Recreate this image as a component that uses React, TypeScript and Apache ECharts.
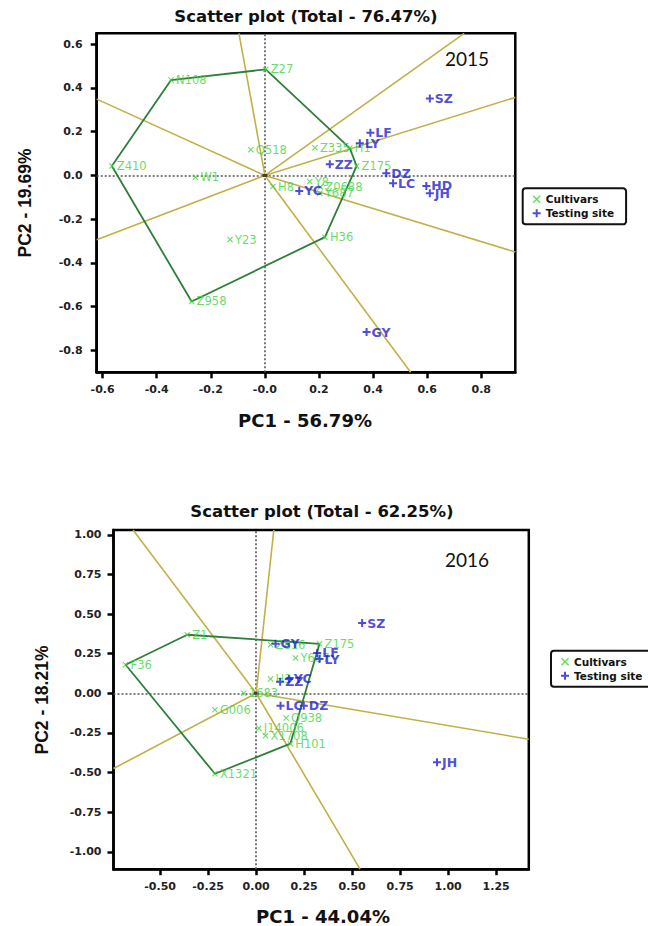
import React, { useEffect, useRef } from "react";
import * as echarts from "echarts";

// ---------- DATA ----------
// 2015 panel
const xTicks2015 = [-0.6, -0.4, -0.2, 0, 0.2, 0.4, 0.6, 0.8];
const yTicks2015 = [-0.8, -0.6, -0.4, -0.2, 0, 0.2, 0.4, 0.6];
const xRange2015 = [-0.622, 0.926];
const yRange2015 = [-0.9, 0.65];

const cultivarNames2015 = ["Z27", "N108", "Z410", "Q518", "W1", "Y23", "Z958", "H36", "Z335", "H1", "Z175", "H8", "Y8", "Z0688", "Y687"];
const cultivarXY2015 = [
  [0.003, 0.485], [-0.347, 0.436], [-0.566, 0.043], [-0.052, 0.118], [-0.257, -0.008],
  [-0.129, -0.293], [-0.271, -0.576], [0.222, -0.282], [0.185, 0.127], [0.314, 0.125],
  [0.339, 0.043], [0.03, -0.051], [0.166, -0.028], [0.205, -0.053], [0.203, -0.081],
];
const siteNames2015 = ["SZ", "LF", "LY", "ZZ", "DZ", "LC", "HD", "JH", "YC", "GY"];
const siteXY2015 = [
  [0.61, 0.352], [0.39, 0.195], [0.351, 0.147], [0.24, 0.051], [0.449, 0.01],
  [0.474, -0.036], [0.597, -0.048], [0.61, -0.081], [0.127, -0.071], [0.376, -0.716],
];
const hull2015 = ["Z27", "H1", "Z175", "H36", "Z958", "Z410", "N108"];
const rays2015 = [
  [-0.096, 0.65], [-0.622, 0.349], [-0.622, -0.294], [0.539, -0.9],
  [0.926, -0.35], [0.926, 0.357], [0.737, 0.65],
];

// 2016 panel
const xTicks2016 = [-0.5, -0.25, 0, 0.25, 0.5, 0.75, 1, 1.25];
const yTicks2016 = [-1, -0.75, -0.5, -0.25, 0, 0.25, 0.5, 0.75, 1];
const xRange2016 = [-0.743, 1.42];
const yRange2016 = [-1.11, 1.03];

const cultivarNames2016 = ["Z1", "F36", "X1321", "G006", "1683", "Z816", "Z175", "Y687", "H3", "Q938", "J14006", "X1708", "H101"];
const cultivarXY2016 = [
  [-0.359, 0.369], [-0.68, 0.18], [-0.215, -0.508], [-0.215, -0.104], [-0.064, 0.0],
  [0.075, 0.306], [0.33, 0.312], [0.205, 0.222], [0.075, 0.09], [0.156, -0.156],
  [0.014, -0.22], [0.049, -0.268], [0.178, -0.318],
];
const siteNames2016 = ["SZ", "GY", "LF", "LY", "ZZ", "YC", "LC", "DZ", "JH"];
const siteXY2016 = [
  [0.552, 0.443], [0.101, 0.312], [0.318, 0.254], [0.33, 0.216], [0.125, 0.072],
  [0.17, 0.09], [0.127, -0.079], [0.248, -0.079], [0.942, -0.435],
];
const hull2016 = ["Z1", "Z175", "H101", "X1321", "F36"];
const rays2016 = [
  [-0.641, 1.03], [0.092, 1.03], [-0.743, -0.475], [0.541, -1.11], [1.42, -0.29],
];

const titles = ["Scatter plot (Total - 76.47%)", "Scatter plot (Total - 62.25%)"];
const xNames = ["PC1 - 56.79%", "PC1 - 44.04%"];
const yNames = ["PC2 - 19.69%", "PC2 - 18.21%"];
const years = ["2015", "2016"];

// ---------- STYLE ----------
const X_ICON = "path://M1,0L4,3L7,0L8,1L5,4L8,7L7,8L4,5L1,8L0,7L3,4L0,1Z";
const PLUS_ICON = "path://M3,0H5V3H8V5H5V8H3V5H0V3H3Z";
const GREEN = "#3fd23f";
const BLUE = "#2020cf";
const HULL = "#2e7f38";
const RAY = "#c2b047";
const FONT = "DejaVu Sans";

const grids = [
  { left: 96.7, top: 33.3, width: 418.6, height: 339 },
  { left: 113.5, top: 530, width: 415.3, height: 339.2 },
];

function axisCommon(ticks: number[], fmt: (v: number) => string, margin: number) {
  return {
    type: "value" as const,
    splitLine: { show: false },
    axisLine: { show: true, onZero: false, lineStyle: { color: "#000", width: 2.5 } },
    axisTick: { show: true, length: 6, customValues: ticks, lineStyle: { color: "#000", width: 2.5 } },
    axisLabel: {
      customValues: ticks,
      formatter: fmt,
      fontFamily: FONT,
      fontWeight: "bold" as const,
      fontSize: 11,
      color: "#222",
      margin,
    },
  };
}

function panelSeries(
  idx: number,
  cNames: string[], cXY: number[][], sNames: string[], sXY: number[][],
  hull: string[], rays: number[][]
) {
  const out: any[] = [];
  rays.forEach((r, i) => {
    const s: any = {
      type: "line",
      name: "ray",
      xAxisIndex: idx,
      yAxisIndex: idx,
      data: [[0, 0], r],
      symbol: "none",
      silent: true,
      lineStyle: { color: RAY, width: 1.6 },
      z: 2,
    };
    if (i === 0) {
      s.markLine = {
        silent: true,
        symbol: ["none", "none"],
        label: { show: false },
        lineStyle: { type: [2, 2], color: "#555", width: 1.6 },
        data: [{ xAxis: 0 }, { yAxis: 0 }],
        z: 1,
      };
    }
    out.push(s);
  });
  const hullPts = hull.map((n) => cXY[cNames.indexOf(n)]);
  out.push({
    type: "line",
    name: "hull",
    xAxisIndex: idx,
    yAxisIndex: idx,
    data: [...hullPts, hullPts[0]],
    symbol: "none",
    silent: true,
    lineStyle: { color: HULL, width: 1.8 },
    z: 3,
  });
  out.push({
    type: "scatter",
    name: "origin",
    xAxisIndex: idx,
    yAxisIndex: idx,
    data: [[0, 0]],
    symbol: "rect",
    symbolSize: [5, 3],
    itemStyle: { color: "#222" },
    silent: true,
    z: 3,
  });
  out.push({
    type: "scatter",
    name: "Cultivars",
    xAxisIndex: idx,
    yAxisIndex: idx,
    data: cNames.map((n, i) => ({ name: n, value: cXY[i] })),
    symbol: X_ICON,
    symbolSize: 6,
    itemStyle: { color: GREEN },
    label: {
      show: true,
      position: "right",
      distance: 2,
      formatter: "{b}",
      color: GREEN,
      fontFamily: FONT,
      fontSize: 11.5,
    },
    z: 4,
  });
  out.push({
    type: "scatter",
    name: "Testing site",
    xAxisIndex: idx,
    yAxisIndex: idx,
    data: sNames.map((n, i) => ({ name: n, value: sXY[i] })),
    symbol: PLUS_ICON,
    symbolSize: 8,
    itemStyle: { color: BLUE },
    label: {
      show: true,
      position: "right",
      distance: 1,
      formatter: "{b}",
      color: BLUE,
      fontFamily: FONT,
      fontWeight: "bold",
      fontSize: 12.5,
    },
    z: 5,
  });
  return out;
}

function legendAt(left: number, top: number) {
  return {
    left,
    top,
    orient: "vertical" as const,
    data: [
      { name: "Cultivars", icon: X_ICON },
      { name: "Testing site", icon: PLUS_ICON },
    ],
    itemWidth: 8,
    itemHeight: 8,
    itemGap: 2,
    padding: [5, 12, 5, 10],
    borderColor: "#111",
    borderWidth: 2,
    borderRadius: 3,
    selectedMode: false,
    textStyle: { fontFamily: FONT, fontWeight: "bold" as const, fontSize: 10.5, color: "#111", lineHeight: 12 },
  };
}

function txt(text: string, x: number, y: number, font: string, rotation = 0) {
  return {
    type: "text",
    x,
    y,
    rotation,
    silent: true,
    style: { text, font, fill: "#111", align: "center", verticalAlign: "middle" },
  };
}

export default function App() {
  const ref = useRef<HTMLDivElement>(null);
  useEffect(() => {
    if (!ref.current) return;
    const chart = echarts.init(ref.current, null, { renderer: "svg" });
    const f1 = (v: number) => (v === 0 ? "-0.0" : v.toFixed(1));
    const f1y = (v: number) => v.toFixed(1);
    const f2 = (v: number) => v.toFixed(2);
    const option: any = {
      animation: false,
      backgroundColor: "#fff",
      grid: grids.map((g) => ({ ...g, show: true, borderColor: "#000", borderWidth: 2.5, containLabel: false })),
      xAxis: [
        { gridIndex: 0, min: xRange2015[0], max: xRange2015[1], ...axisCommon(xTicks2015, f1, 12) },
        { gridIndex: 1, min: xRange2016[0], max: xRange2016[1], ...axisCommon(xTicks2016, f2, 12) },
      ],
      yAxis: [
        { gridIndex: 0, min: yRange2015[0], max: yRange2015[1], ...axisCommon(yTicks2015, f1y, 14) },
        { gridIndex: 1, min: yRange2016[0], max: yRange2016[1], ...axisCommon(yTicks2016, f2, 12) },
      ],
      legend: [legendAt(522.7, 188.3), legendAt(551, 650.7)],
      series: [
        ...panelSeries(0, cultivarNames2015, cultivarXY2015, siteNames2015, siteXY2015, hull2015, rays2015),
        ...panelSeries(1, cultivarNames2016, cultivarXY2016, siteNames2016, siteXY2016, hull2016, rays2016),
      ],
      graphic: [
        txt(titles[0], 306, 16.3, `bold 16.5px "${FONT}"`),
        txt(titles[1], 322, 511.7, `bold 16.5px "${FONT}"`),
        txt(xNames[0], 305, 420, `bold 18px "${FONT}"`),
        txt(xNames[1], 323, 916.7, `bold 18px "${FONT}"`),
        txt(yNames[0], 25, 203, `bold 17.5px "Liberation Sans"`, Math.PI / 2),
        txt(yNames[1], 41.5, 700, `bold 17.5px "Liberation Sans"`, Math.PI / 2),
        txt(years[0], 467, 58, `19px Lato`),
        txt(years[1], 467, 559.3, `19px Lato`),
      ],
    };
    chart.setOption(option);
    return () => chart.dispose();
  }, []);
  return (
    <div
      ref={ref}
      style={{ position: "absolute", left: 0, top: 0, width: 648, height: 926, overflow: "hidden" }}
    />
  );
}
